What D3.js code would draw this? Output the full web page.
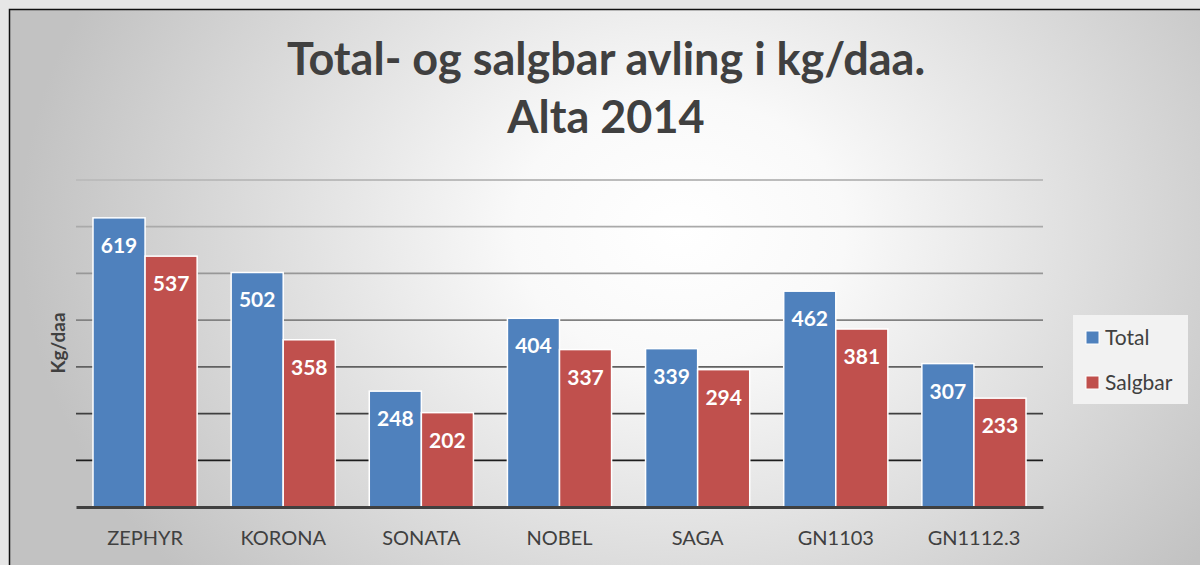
<!DOCTYPE html>
<html><head><meta charset="utf-8">
<script src="https://cdn.jsdelivr.net/npm/d3@7"></script>
<style>html,body{margin:0;padding:0;background:#e6e6e6;}svg{display:block;}</style>
</head><body>
<svg id="c" width="1200" height="565"></svg>
<script>
const categories = ["ZEPHYR","KORONA","SONATA","NOBEL","SAGA","GN1103","GN1112.3"];
const totalValues = [619,502,248,404,339,462,307];
const salgbarValues = [537,358,202,337,294,381,233];
const seriesNames = ["Total","Salgbar"];
const seriesColors = ["#4f81bd","#c0504d"];
const yTicks = [0,100,200,300,400,500,600,700];
const titleLines = ["Total- og salgbar avling i kg/daa.","Alta 2014"];
const yLabel = "Kg/daa";

const svg = d3.select("#c");
const defs = svg.append("defs");
const rg = defs.append("radialGradient").attr("id","bg").attr("gradientUnits","userSpaceOnUse")
  .attr("cx",680).attr("cy",230).attr("r",660)
  .attr("gradientTransform","translate(680,230) scale(1,0.8) translate(-680,-230)");
rg.append("stop").attr("offset",0).attr("stop-color","#ffffff");
rg.append("stop").attr("offset",0.25).attr("stop-color","#f9f9f9");
rg.append("stop").attr("offset",1).attr("stop-color","#c2c2c2");
const lg = defs.append("linearGradient").attr("id","grid").attr("gradientUnits","userSpaceOnUse")
  .attr("x1",0).attr("y1",180).attr("x2",0).attr("y2",465);
lg.append("stop").attr("offset",0).attr("stop-color","#bcbcbc");
lg.append("stop").attr("offset",0.45).attr("stop-color","#8a8a8a");
lg.append("stop").attr("offset",1).attr("stop-color","#1a1a1a");

svg.append("rect").attr("x",9.5).attr("y",9.5).attr("width",1200).attr("height",570)
  .attr("fill","url(#bg)").attr("stroke","#111").attr("stroke-width",1.5);

const x = d3.scaleBand().domain(categories).range([76,1043]).paddingInner(0.246).paddingOuter(0.123);
const xs = d3.scaleBand().domain(seriesNames).range([0,x.bandwidth()]);
const y = d3.scaleLinear().domain([0,700]).range([507,180]);

// gridlines
svg.append("g").selectAll("line").data(yTicks.filter(d=>d>0)).join("line")
  .attr("x1",76).attr("x2",1043).attr("y1",d=>y(d)).attr("y2",d=>y(d))
  .attr("stroke","url(#grid)").attr("stroke-width",1.8);

const data = categories.map((c,i)=>({cat:c, vals:[totalValues[i], salgbarValues[i]]}));
const groups = svg.append("g").selectAll("g").data(data).join("g")
  .attr("transform",d=>`translate(${x(d.cat)},0)`);
groups.selectAll("rect").data(d=>d.vals.map((v,j)=>({v,s:seriesNames[j],j}))).join("rect")
  .attr("x",d=>xs(d.s)).attr("width",xs.bandwidth())
  .attr("y",d=>y(d.v)).attr("height",d=>y(0)-y(d.v))
  .attr("fill",d=>seriesColors[d.j]).attr("stroke","#fff").attr("stroke-width",1.5);
groups.selectAll("text").data(d=>d.vals.map((v,j)=>({v,s:seriesNames[j],j}))).join("text")
  .attr("x",d=>xs(d.s)+xs.bandwidth()/2).attr("y",d=>y(d.v)+35)
  .attr("text-anchor","middle").attr("fill","#fff")
  .attr("font-family","Lato").attr("font-weight","bold").attr("font-size",21)
  .text(d=>d.v);

// baseline axis
const xAxis = svg.append("g").attr("transform","translate(0,507)")
  .call(d3.axisBottom(x).tickSize(0).tickPadding(0));
xAxis.select(".domain").attr("stroke","#404040").attr("stroke-width",3);
xAxis.selectAll("text").attr("font-family","Lato").attr("font-size",20).attr("fill","#404040")
  .attr("dy",0).attr("y",38);

// y label
svg.append("text").attr("transform","translate(65,343) rotate(-90)")
  .attr("text-anchor","middle").attr("font-family","Lato").attr("font-weight","bold")
  .attr("font-size",19).attr("fill","#404040").text(yLabel);

// title
svg.append("g").selectAll("text").data(titleLines).join("text")
  .attr("x",606).attr("y",(d,i)=>75+i*58).attr("text-anchor","middle")
  .attr("font-family","Lato").attr("font-weight","bold").attr("font-size",45)
  .attr("fill","#404040").text(d=>d);

// legend
const lgd = svg.append("g");
lgd.append("rect").attr("x",1073).attr("y",315).attr("width",115).attr("height",89).attr("fill","#f2f2f2");
const items = lgd.selectAll("g").data(seriesNames).join("g")
  .attr("transform",(d,i)=>`translate(1086,${331+i*45})`);
items.append("rect").attr("width",13).attr("height",13).attr("fill",(d,i)=>seriesColors[i])
  .attr("stroke","#fff").attr("stroke-width",1);
items.append("text").attr("x",19).attr("y",14).attr("font-family","Lato").attr("font-size",21)
  .attr("fill","#404040").text(d=>d);
</script>
</body></html>
